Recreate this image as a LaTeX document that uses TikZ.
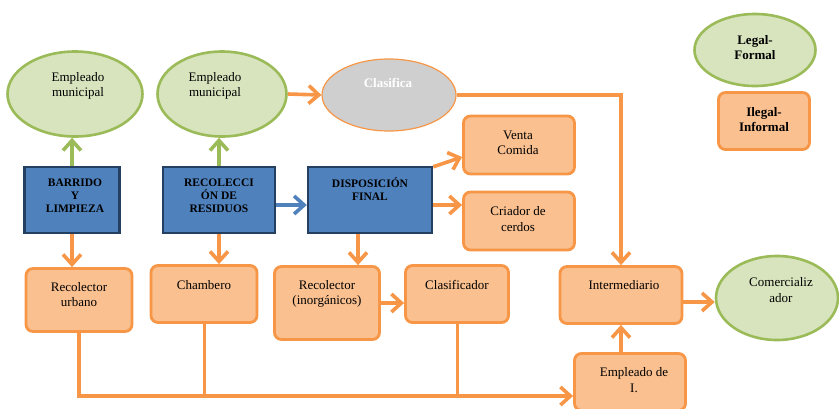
\documentclass[tikz,border=0pt]{standalone}
\usepackage{fontspec}
\setmainfont{Liberation Serif}
\usetikzlibrary{arrows.meta,shapes.geometric}
\definecolor{ofill}{HTML}{FAC090}
\definecolor{oline}{HTML}{F79646}
\definecolor{gfill}{HTML}{D7E4BD}
\definecolor{gline}{HTML}{9BBB59}
\definecolor{bfill}{HTML}{4F81BD}
\definecolor{bline}{HTML}{243F60}
\definecolor{cfill}{HTML}{CFCFCF}
\tikzset{
    gell/.style={ellipse, draw=gline, fill=gfill, line width=2.6pt, inner sep=0pt},
    cell/.style={ellipse, draw=oline, fill=cfill, line width=1.2pt, inner sep=0pt},
    obox/.style={rectangle, rounded corners=7pt, draw=oline, fill=ofill, line width=2.8pt},
    bbox/.style={rectangle, draw=bline, fill=bfill, line width=2.4pt},
    txt/.style={align=center, font=\fontsize{13}{15.5}\selectfont},
    btxt/.style={align=center, font=\fontsize{11.5}{13}\selectfont\bfseries},
    ltxt/.style={align=center, font=\fontsize{13}{15}\selectfont\bfseries},
    oln/.style={draw=oline, line width=3pt},
    oarr/.style={draw=oline, line width=3.6pt, -{Straight Barb[length=10pt,width=18pt]}},
    garr/.style={draw=gline, line width=3.6pt, -{Straight Barb[length=10pt,width=18pt]}},
    barr/.style={draw=bfill, line width=3.6pt, -{Straight Barb[length=10pt,width=18pt]}}
}
\begin{document}
\begin{tikzpicture}[x=1pt, y=-1pt]
    \useasboundingbox (0,0) rectangle (839,408);
    \clip (0,0) rectangle (839,408);
    \node[gell, minimum width=135, minimum height=85] (em1) at (75,94) {};
    \node[gell, minimum width=129, minimum height=85] (em2) at (222,94) {};
    \node[cell, minimum width=134, minimum height=72] (cla) at (389,95) {};
    \node[gell, minimum width=121, minimum height=72] (leg) at (755,50) {};
    \node[gell, minimum width=122, minimum height=84] (com) at (777,298) {};
    \node[bbox, minimum width=95, minimum height=66] (bar) at (72,200) {};
    \node[bbox, minimum width=112, minimum height=66] (rec) at (219,200) {};
    \node[bbox, minimum width=124, minimum height=66] (dis) at (370,200) {};
    \node[obox, minimum width=111, minimum height=58] (ven) at (519,145) {};
    \node[obox, minimum width=111, minimum height=58] (cri) at (519,221) {};
    \node[obox, minimum width=106, minimum height=63] (ru) at (79,300) {};
    \node[obox, minimum width=106, minimum height=57] (cha) at (204,294) {};
    \node[obox, minimum width=105, minimum height=73] (ri) at (327,303) {};
    \node[obox, minimum width=103, minimum height=57] (clf) at (457,294) {};
    \node[obox, minimum width=122, minimum height=57] (int) at (621,295) {};
    \node[obox, minimum width=111, minimum height=57] (emp) at (630,382) {};
    \node[obox, minimum width=91, minimum height=57] (ile) at (764,121) {};
    \node[txt] (em1-t) at (78,86) {Empleado\\municipal};
    \node[txt] (em2-t) at (215,86) {Empleado\\municipal};
    \node[ltxt, text=white] (cla-t) at (388,83) {Clasifica};
    \node[ltxt] (leg-t) at (755,47.5) {Legal-\\Formal};
    \node[txt] (com-t) at (781,290) {Comercializ\\ador};
    \node[btxt] (bar-t) at (75,196) {BARRIDO\\Y\\LIMPIEZA};
    \node[btxt] (rec-t) at (219,196) {RECOLECCI\\ÓN DE\\RESIDUOS};
    \node[btxt] (dis-t) at (370,189.5) {DISPOSICIÓN\\FINAL};
    \node[txt] (ven-t) at (518,143) {Venta\\Comida};
    \node[txt] (cri-t) at (518,219) {Criador de\\cerdos};
    \node[txt] (ru-t) at (79,294.5) {Recolector\\urbano};
    \node[txt] (cha-t) at (204,285) {Chambero};
    \node[txt] (ri-t) at (327,294) {Recolector\\(inorgánicos)};
    \node[txt] (clf-t) at (457,285) {Clasificador};
    \node[txt] (int-t) at (624,285) {Intermediario};
    \node[txt] (emp-t) at (634,380) {Empleado de\\I.};
    \node[ltxt] (ile-t) at (764,119.5) {Ilegal-\\Informal};
    \coordinate (bus) at ([yshift=-14pt]emp.west);
    \draw[garr] (bar.north) -- (bar.north |- em1.south);
    \draw[garr] (rec.north) -- (rec.north |- em2.south);
    \draw[oarr] (em2.east) -- (cla.west);
    \draw[oarr] (cla.east) -| (int.north);
    \draw[barr] ([yshift=-5pt]rec.east) -- ([yshift=-5pt]dis.west);
    \draw[oarr] ([yshift=-1pt]dis.north east) -- ([yshift=-12pt]ven.west);
    \draw[oarr] ([yshift=-5pt]dis.east) -- ([yshift=-5pt]dis.east -| cri.west);
    \draw[oarr] (bar.south) -- (bar.south |- ru.north);
    \draw[oarr] (rec.south) -- (rec.south |- cha.north);
    \draw[oarr] ([xshift=-12pt]dis.south) -- ([xshift=-12pt]dis.south |- ri.north);
    \draw[oarr] (ri.east) -- (ri.east -| clf.west);
    \draw[oarr] (ru.south) |- (bus);
    \draw[oln] (cha.south) -- (cha.south |- bus);
    \draw[oln] (clf.south) -- (clf.south |- bus);
    \draw[oarr] (int.south |- emp.north) -- (int.south);
    \draw[oarr] ([yshift=-7pt]int.east) -- ([yshift=-7pt]int.east -| com.west);
\end{tikzpicture}
\end{document}
